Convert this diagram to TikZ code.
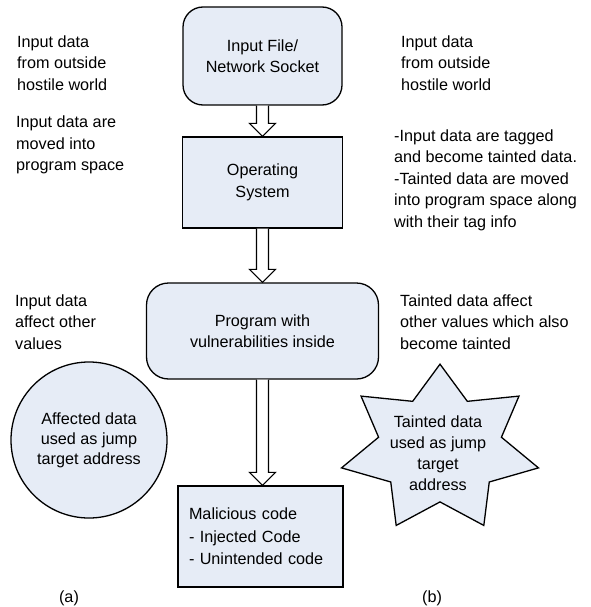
\documentclass[tikz,border=0pt]{standalone}
\usepackage{fontspec}
\setmainfont{Liberation Sans}
\usetikzlibrary{calc}
\definecolor{boxfill}{RGB}{230,236,246}
\newcommand\blockarrow[2]{%
  \draw[blk] ($(#1.south)+(-6,0)$) -- ($(#1.south |- #2.north)+(-6,-13)$) -- ($(#1.south |- #2.north)+(-13,-13)$)
    -- (#1.south |- #2.north) -- ($(#1.south |- #2.north)+(13,-13)$) -- ($(#1.south |- #2.north)+(6,-13)$) -- ($(#1.south)+(6,0)$);}
\begin{document}
\begin{tikzpicture}[x=1pt,y=-1pt,
  every node/.style={font=\fontsize{16.2}{21.5}\selectfont},
  lbl/.style={anchor=west, align=left, inner sep=0pt},
  shapebox/.style={draw=black, fill=boxfill, line width=1.3pt, align=center, inner sep=0pt},
  blk/.style={draw=black, fill=white, line width=1.1pt, line join=miter},
  captxt/.style={inner sep=0pt}
]
\useasboundingbox (0,0) rectangle (590,607);
% side texts
\node[lbl] (l1) at (17,63) {Input data\\from outside\\hostile world};
\node[lbl] (l2) at (16,145) {Input data are\\moved into\\program space};
\node[lbl] (l3) at (15,322) {Input data\\affect other\\values};
\node[lbl] (r1) at (401,63) {Input data\\from outside\\hostile world};
\node[lbl] (r2) at (394,180) {-Input data are tagged\\and become tainted data.\\-Tainted data are moved\\into program space along\\with their tag info};
\node[lbl] (r3) at (400,322) {Tainted data affect\\other values which also\\become tainted};
% main column
\node[shapebox, rounded corners=20pt, minimum width=159pt, minimum height=98pt] (src) at (262.5,56) {Input File/\\Network Socket};
\node[shapebox, minimum width=160pt, minimum height=91pt] (os) at (262.5,182.5) {Operating\\System};
\node[shapebox, rounded corners=22pt, minimum width=232pt, minimum height=96pt] (prog) at (262.5,331) {Program with\\vulnerabilities inside};
\node[shapebox, align=left, text width=143pt, inner xsep=11pt, minimum height=101pt, font=\fontsize{16.2}{22.5}\selectfont] (mal) at (260.5,536.5) {Malicious code\\- Injected Code\\- Unintended code};
\blockarrow{src}{os}
\blockarrow{os}{prog}
\blockarrow{prog}{mal}
% circle
\node[shapebox, circle, minimum size=156pt, font=\fontsize{16.2}{20}\selectfont] (aff) at (89,440) {Affected data\\used as jump\\target address};
% star
\begin{scope}[shift={(440,449)}, yscale=0.84]
\draw[line width=1.3pt, fill=boxfill, line join=miter]
  (270:101) -- (295.71:63) -- (321.43:101) -- (347.14:63) -- (12.86:101) -- (38.57:63)
  -- (64.29:101) -- (90:63) -- (115.71:101) -- (141.43:63) -- (167.14:101) -- (192.86:63)
  -- (218.57:101) -- (244.29:63) -- cycle;
\end{scope}
\node[align=center, inner sep=0pt, font=\fontsize{16.2}{21}\selectfont] (taint) at (438,453) {Tainted data\\used as jump\\target\\address};
% captions
\node[captxt] (ca) at (69,598) {(a)};
\node[captxt] (cb) at (432,598) {(b)};
\end{tikzpicture}
\end{document}
